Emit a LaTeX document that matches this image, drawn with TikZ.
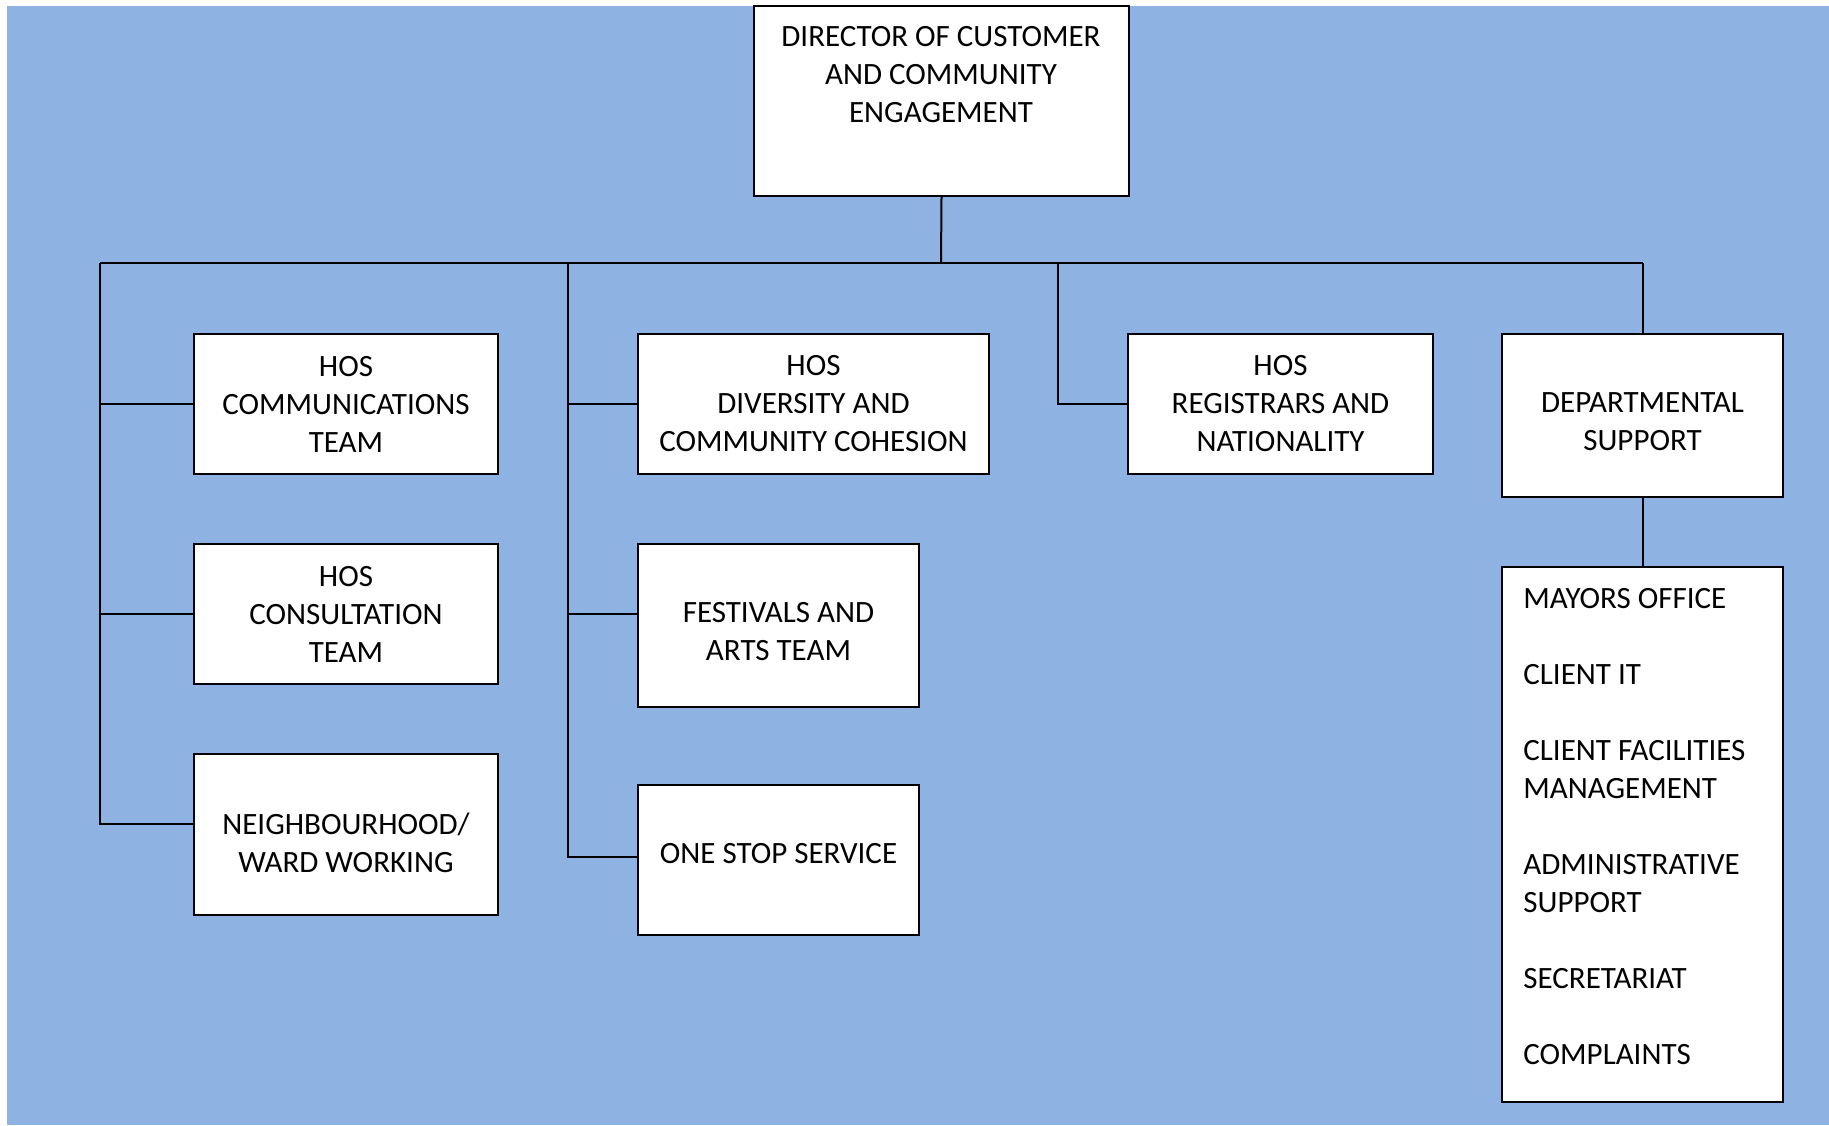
\documentclass[tikz,border=0pt]{standalone}
\usepackage{fontspec}
\setmainfont{Carlito}
\definecolor{bg}{RGB}{142,178,225}
\begin{document}
\begin{tikzpicture}[x=0.5pt,y=-0.5pt,
  box/.style={draw=black, line width=1pt, fill=white, inner sep=0pt, align=center,
    font=\fontsize{15.5pt}{19pt}\selectfont},
  txt/.style={inner sep=0pt, align=center, font=\fontsize{15.5pt}{19pt}\selectfont},
  listtxt/.style={inner sep=0pt, align=left, font=\fontsize{15.5pt}{19pt}\selectfont},
  conn/.style={draw=black, line width=1pt}]
\useasboundingbox (0,0) rectangle (1829,1125);
\fill[bg] (7,6) rectangle (1829,1125);

% boxes
\node[box, minimum width=187.5pt, minimum height=95pt] (dir) at (941.5,101) {};
\node[txt, anchor=north] (dirtxt) at (941,26) {DIRECTOR OF CUSTOMER\\AND COMMUNITY\\ENGAGEMENT};

\node[box, minimum width=152pt, minimum height=70pt] (comm) at (346,404) {HOS\\COMMUNICATIONS\\TEAM};
\node[box, minimum width=152pt, minimum height=70pt] (cons) at (346,614) {HOS\\CONSULTATION\\TEAM};
\node[box, minimum width=152pt, minimum height=80.5pt] (neigh) at (346,834.5) {};
\node[txt] (neightxt) at ([yshift=-4pt]neigh.center) {NEIGHBOURHOOD/\\WARD WORKING};

\node[box, minimum width=175.5pt, minimum height=70pt] (div) at (813.5,404) {HOS\\DIVERSITY AND\\COMMUNITY COHESION};
\node[box, minimum width=140.5pt, minimum height=81.5pt] (fest) at (778.5,625.5) {};
\node[txt] (festtxt) at ([yshift=-3pt]fest.center) {FESTIVALS AND\\ARTS TEAM};
\node[box, minimum width=140.5pt, minimum height=75pt] (one) at (778.5,860) {};
\node[txt] (onetxt) at ([yshift=3pt]one.center) {ONE STOP SERVICE};

\node[box, minimum width=152.5pt, minimum height=70pt] (reg) at (1280.5,404) {HOS\\REGISTRARS AND\\NATIONALITY};

\node[box, minimum width=140.5pt, minimum height=81.5pt] (dept) at (1642.5,415.5) {};
\node[txt] (depttxt) at ([yshift=-3pt]dept.center) {DEPARTMENTAL\\SUPPORT};
\node[box, minimum width=140.5pt, minimum height=267.5pt] (list) at (1642.5,834.5) {};
\node[listtxt, anchor=north west] (listtxt) at (1523,588) {MAYORS OFFICE\\[19pt]CLIENT IT\\[19pt]CLIENT FACILITIES\\MANAGEMENT\\[19pt]ADMINISTRATIVE\\SUPPORT\\[19pt]SECRETARIAT\\[19pt]COMPLAINTS};

% junction coordinates
\coordinate (bus) at (941,263);
\coordinate (b1) at (100,263);
\coordinate (b2) at (568,263);
\coordinate (b3) at (1058,263);
\coordinate (b4) at (1643,263);
\coordinate (k11) at (100,404);
\coordinate (k12) at (100,614);
\coordinate (k13) at (100,824);
\coordinate (k21) at (568,404);
\coordinate (k22) at (568,614);
\coordinate (k23) at (568,857);
\coordinate (k31) at (1058,404);

% connectors
\draw[conn] (dir.south) -- (bus);
\draw[conn] (b1) -- (b4);
\draw[conn] (b1) -- (k13) -- (k13 -| neigh.west);
\draw[conn] (k11) -- (k11 -| comm.west);
\draw[conn] (k12) -- (k12 -| cons.west);
\draw[conn] (b2) -- (k23) -- (k23 -| one.west);
\draw[conn] (k21) -- (k21 -| div.west);
\draw[conn] (k22) -- (k22 -| fest.west);
\draw[conn] (b3) -- (k31) -- (k31 -| reg.west);
\draw[conn] (b4) -- (b4 |- dept.north);
\draw[conn] (dept.south) -- (list.north);
\end{tikzpicture}
\end{document}
